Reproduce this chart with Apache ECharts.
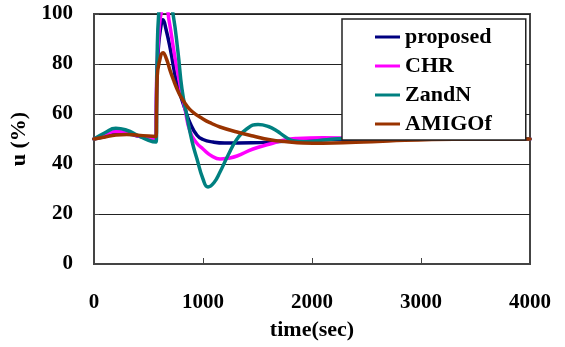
<!DOCTYPE html>
<html>
<head>
<meta charset="utf-8">
<script src="https://cdn.jsdelivr.net/npm/echarts@6/dist/echarts.min.js"></script>
<style>
  html, body { margin: 0; padding: 0; background: #fff; }
  #chart { width: 565px; height: 347px; }
</style>
</head>
<body>
<div id="chart"></div>
<script>
// Controller output u (%) versus time (sec) for four tuning methods
const seriesNames = ['proposed', 'CHR', 'ZandN', 'AMIGOf'];
const seriesColors = ['#000080', '#FF00FF', '#008080', '#993300'];

const xTicks = [0, 1000, 2000, 3000, 4000];
const yTicks = [0, 20, 40, 60, 80, 100];

// [time, u] samples
const proposed = [
  [0, 50], [100, 51], [200, 52], [300, 52], [400, 51.2], [500, 50.3], [568, 49.8],
  [575, 70], [590, 86], [610, 94], [633, 97.7], [660, 94], [700, 86], [760, 72],
  [800, 66.5], [835, 62], [880, 56.5], [945, 51.5], [1000, 49.8], [1092, 48.8], [1200, 48.4],
  [1450, 48.5], [1700, 49], [2000, 49.5], [2500, 50], [3000, 50], [4000, 50]
];
const chr = [
  [0, 50], [100, 51.8], [200, 53], [300, 52.5], [400, 51.3], [500, 50.3], [568, 49.5],
  [575, 75], [600, 95], [630, 103], [655, 104], [690, 97], [730, 86], [770, 76],
  [835, 62], [881, 53], [940, 48.5], [1000, 46], [1080, 43.2], [1156, 42],
  [1230, 42.3], [1312, 43.2], [1459, 46], [1615, 48], [1750, 49.6], [1862, 50.2],
  [2100, 50.5], [2400, 50.3], [3000, 50], [4000, 50]
];
const zandn = [
  [0, 50], [100, 52.5], [200, 54.3], [300, 53.5], [400, 51.5], [500, 49.5], [570, 48.8],
  [578, 80], [600, 104], [640, 110], [690, 106], [725, 100], [770, 85], [807, 70],
  [853, 59], [900, 49], [945, 42], [1000, 34], [1046, 30.8], [1100, 32.5],
  [1156, 36.8], [1230, 43.5], [1312, 50], [1400, 54], [1505, 55.8], [1600, 55],
  [1679, 53.2], [1750, 51], [1826, 49.3], [1950, 48.9], [2100, 49.6], [2300, 50.2],
  [2600, 50.1], [3000, 50], [4000, 50]
];
const amigof = [
  [0, 50], [100, 50.8], [200, 51.6], [300, 51.8], [400, 51.5], [500, 51.2], [570, 51],
  [574, 62], [580, 75], [600, 81], [633, 84.5], [665, 82], [697, 77.5], [730, 73.5],
  [760, 70.2], [790, 67.4], [840, 64], [900, 61], [1000, 58], [1080, 56.2], [1156, 54.8],
  [1312, 52.8], [1459, 51.2], [1615, 49.7], [1770, 48.9], [1917, 48.4], [2100, 48.3],
  [2400, 48.7], [2700, 49.2], [3100, 49.8], [3500, 50], [4000, 50]
];
const seriesData = [proposed, chr, zandn, amigof];

const serif = '"Liberation Serif", "Times New Roman", serif';

const chart = echarts.init(document.getElementById('chart'), null, { renderer: 'canvas' });

chart.setOption({
  animation: false,
  backgroundColor: '#fff',
  grid: {
    left: 94, right: 35, top: 14, bottom: 83,
    show: true, borderColor: '#444', borderWidth: 2, backgroundColor: 'transparent'
  },
  legend: {
    orient: 'vertical',
    left: 342, top: 19,
    width: 184,
    padding: [7, 34, 5, 33],
    backgroundColor: '#fff',
    borderColor: '#222', borderWidth: 1.5,
    itemWidth: 25, itemHeight: 3, itemGap: 7,
    icon: 'rect',
    data: seriesNames,
    textStyle: { fontFamily: serif, fontWeight: 'bold', fontSize: 22, color: '#000', lineHeight: 22 }
  },
  xAxis: {
    type: 'value', min: xTicks[0], max: xTicks[xTicks.length - 1], interval: 1000,
    name: 'time(sec)', nameLocation: 'middle', nameGap: 55,
    nameTextStyle: { fontFamily: serif, fontWeight: 'bold', fontSize: 22, color: '#000' },
    axisLine: { lineStyle: { color: '#444', width: 2 } },
    axisTick: { inside: true, length: 6, lineStyle: { color: '#444' } },
    axisLabel: {
      margin: 28, fontFamily: serif, fontWeight: 'bold', fontSize: 21, color: '#000',
      formatter: v => String(v)
    },
    splitLine: { show: false }
  },
  yAxis: {
    type: 'value', min: yTicks[0], max: yTicks[yTicks.length - 1], interval: 20,
    name: 'u (%)', nameLocation: 'middle', nameGap: 58, nameRotate: 90,
    nameTextStyle: { fontFamily: serif, fontWeight: 'bold', fontSize: 22, color: '#000' },
    axisLine: { lineStyle: { color: '#444', width: 2 } },
    axisTick: { inside: true, length: 5, lineStyle: { color: '#444' } },
    axisLabel: { margin: 21, fontFamily: serif, fontWeight: 'bold', fontSize: 21, color: '#000' },
    splitLine: { show: true, lineStyle: { color: '#222', width: 1 } }
  },
  series: seriesNames.map((name, i) => ({
    name: name,
    type: 'line',
    data: seriesData[i],
    showSymbol: false,
    smooth: 0.5,
    clip: true,
    color: seriesColors[i],
    lineStyle: { color: seriesColors[i], width: 3.5, join: 'round', cap: 'round' }
  }))
});
</script>
</body>
</html>
